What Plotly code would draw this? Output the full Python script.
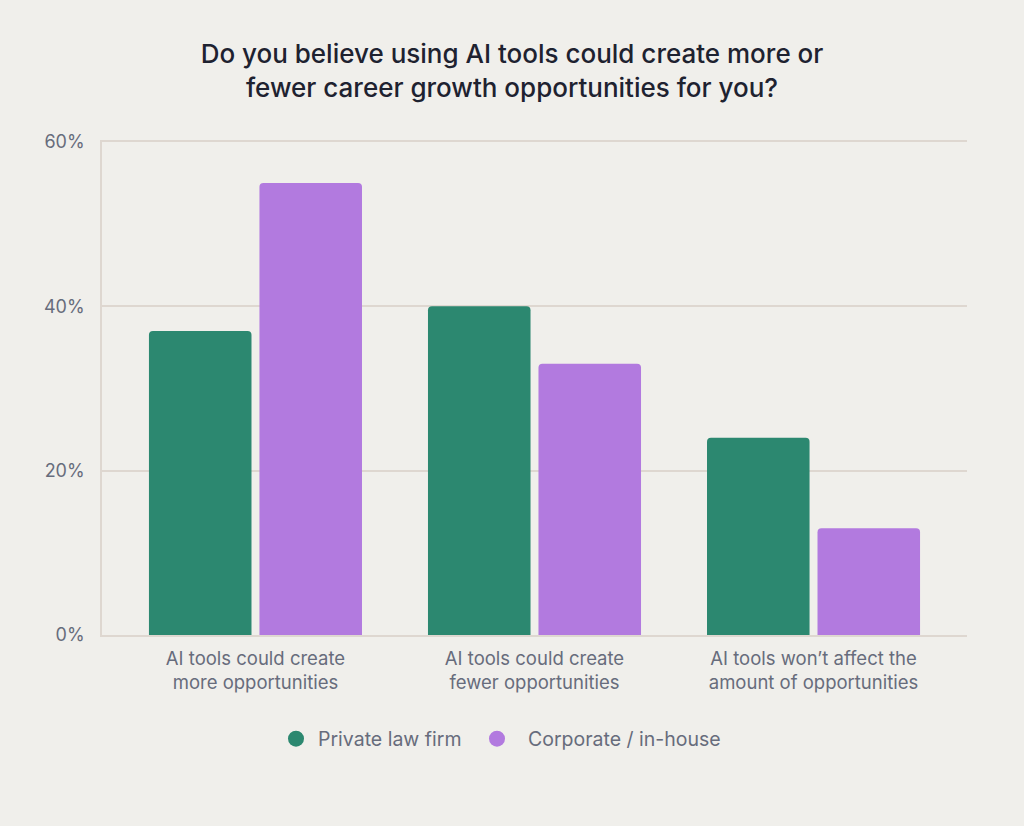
import plotly.graph_objects as go

categorias = [
    "AI tools could create<br>more opportunities",
    "AI tools could create<br>fewer opportunities",
    "AI tools won’t affect the<br>amount of opportunities",
]
private_law = [37, 40, 24]
corporate = [55, 33, 13]
series = ["Private law firm", "Corporate / in-house"]
colores = ["#2C8870", "#B27ADF"]
ticks_y = [0, 20, 40, 60]
ticks_txt = ["0%", "20%", "40%", "60%"]

fig = go.Figure()

for i, (nombre, valores, color) in enumerate(zip(series, [private_law, corporate], colores)):
    fig.add_trace(go.Bar(
        x=categorias,
        y=valores,
        name=nombre,
        marker=dict(color=color, cornerradius=4, line=dict(width=0)),
        showlegend=False,
    ))
    # entrada de leyenda con círculo (una leyenda por serie para fijar posición)
    fig.add_trace(go.Scatter(
        x=[None], y=[None], mode='markers', name=nombre,
        marker=dict(color=color, size=20, symbol='circle'),
        legend='legend' if i == 0 else 'legend2',
    ))

leyenda = dict(
    orientation='h',
    xref='container', xanchor='left',
    y=1 - 739 / 826, yref='container', yanchor='middle',
    font=dict(size=19.5, color="#676C7C"),
    bgcolor='rgba(0,0,0,0)',
)

fig.update_layout(
    width=1024,
    height=826,
    margin=dict(l=102, r=57, t=142, b=191),
    paper_bgcolor='#F0EFEB',
    plot_bgcolor='#F0EFEB',
    font=dict(family="Inter, Noto Sans, sans-serif", color="#676C7C"),
    title=dict(
        text="Do you believe using AI tools could create more or<br>fewer career growth opportunities for you?",
        x=0.5, xref='container', xanchor='center',
        y=1 - 63 / 826, yref='container', yanchor='middle',
        font=dict(size=26, color="#1E2230", weight=500),
    ),
    barmode='group',
    bargap=0.208,
    bargroupgap=0.072,
    xaxis=dict(
        range=[-0.55, 2.55],
        showgrid=False,
        showline=True,
        mirror=True,
        linecolor='#DED7D0',
        linewidth=1.5,
        ticks='',
        ticklabelstandoff=6,
        tickfont=dict(size=18.5, color="#676C7C"),
    ),
    yaxis=dict(
        range=[0, 60],
        tickmode='array',
        tickvals=ticks_y,
        ticktext=ticks_txt,
        showgrid=True,
        gridcolor='#DED7D0',
        gridwidth=1.5,
        zeroline=False,
        showline=True,
        linecolor='#DED7D0',
        linewidth=1.5,
        ticks='',
        ticklabelstandoff=12,
        tickfont=dict(size=18, color="#676C7C"),
    ),
    legend=dict(leyenda, x=274 / 1024, itemwidth=34),
    legend2=dict(leyenda, x=466 / 1024, itemwidth=52),
)

fig.write_html("out.html", config={'displayModeBar': False},
               post_script="document.body.style.margin='0';")
